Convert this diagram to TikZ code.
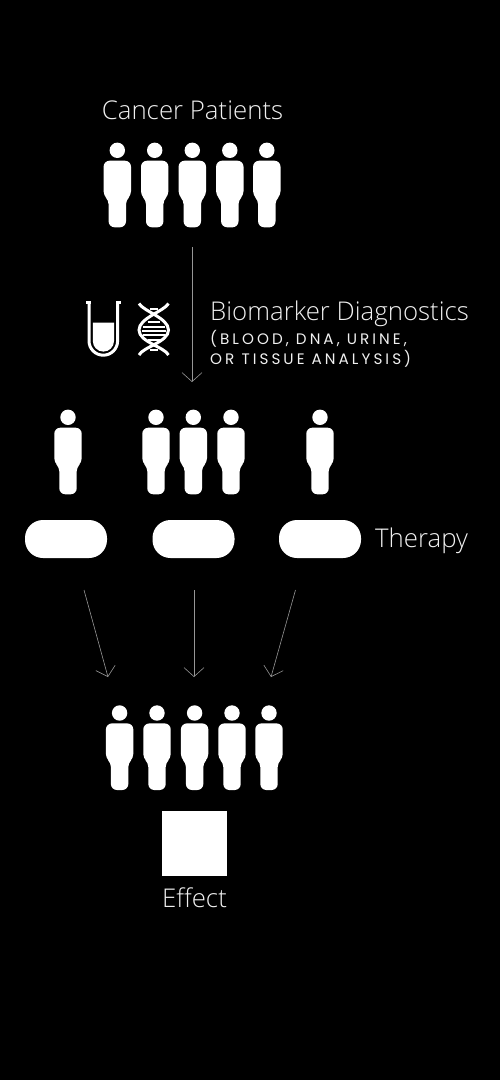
\documentclass[tikz,border=0pt]{standalone}
\usepackage{fontspec}
\setmainfont{Open Sans Light}[BoldFont=Open Sans]
\newfontfamily\capsfont{Poppins}[LetterSpace=20]
\usetikzlibrary{arrows.meta, positioning}
\definecolor{soft}{RGB}{240, 240, 240}
\definecolor{wire}{RGB}{150, 150, 150}

\begin{document}
\begin{tikzpicture}[
  x=1pt, y=-1pt,
  label/.style={inner sep=0pt, text=soft, font=\fontsize{25.8}{26}\selectfont},
  sublabel/.style={inner sep=0pt, text=soft, align=left,
    font=\capsfont\fontsize{15.2}{20}\selectfont},
  pill/.style={draw=none, fill=white, rounded corners=18pt, minimum width=82pt,
    minimum height=38pt, inner sep=0pt},
  effectbox/.style={draw=none, fill=white, minimum size=65pt, inner sep=0pt},
  arrow/.style={-{Straight Barb[length=9pt, width=20pt]}, line width=0.6pt, wire},
  person/.pic={
    \fill[white] (0,-77) circle (7.7);
    \fill[white] (-13.7,-50) [rounded corners=6pt] -- (-13.7,-66.6) -- (13.7,-66.6) [sharp corners] -- (13.7,-50)
      [rounded corners=4pt] -- (13.7,-32) -- (8.7,-27) [rounded corners=6pt] -- (8.7,0) -- (-8.7,0)
      [rounded corners=4pt] -- (-8.7,-27) -- (-13.7,-32) [sharp corners] -- cycle;
  }
]
\fill[black] (0,0) rectangle (500,1080);

% patients
\node[label] (patients) at (192.5,110) {Cancer Patients};
\foreach \px in {117.3,154.7,192.3,229.8,266.8}
  \pic at (\px,227.3) {person};

% diagnostics
\draw[white, line width=3pt, line cap=butt] (86,302.5) -- (91,302.5) (116,302.5) -- (120.5,302.5);
\draw[white, line width=3pt] (89,302) -- (89,340.9) arc[start angle=180, end angle=0, radius=14.3] -- (117.6,302);
\fill[white] (92.8,322.5) -- (114,322.5) -- (114,341) arc[start angle=0, end angle=180, radius=10.6] -- cycle;
\draw[white, line width=3pt] (139,303.5) .. controls (143,311) and (168.5,318) .. (168.5,330)
  .. controls (168.5,342) and (143,347) .. (139,355);
\draw[white, line width=3pt] (168.5,303.5) .. controls (164.5,311) and (139,318) .. (139,330)
  .. controls (139,342) and (164.5,347) .. (168.5,355);
\foreach \ry/\rw in {309/4,322/6,327/11,331/12,335/11,340/6,350/4}
  \draw[white, line width=1.2pt] (153.7-\rw,\ry) -- (153.7+\rw,\ry);
\node[label, anchor=base west] (biomarker) at (210,320) {Biomarker Diagnostics};
\node[sublabel, anchor=north west] (analysis) at (210,330.3) {(BLOOD, DNA, URINE,\\OR TISSUE ANALYSIS)};
\coordinate (patients-out) at (192,247);
\coordinate (groups-in) at (192,382);
\draw[arrow] (patients-out) -- (groups-in);

% stratified groups
\foreach \px in {68,156,193.3,231,320}
  \pic at (\px,494.3) {person};
\node[pill] (pill-a) at (66,539) {};
\node[pill] (pill-b) at (193.5,539) {};
\node[pill] (pill-c) at (320,539) {};
\node[label, anchor=base west] (therapy) at (375,547) {Therapy};

\coordinate (a-out) at (84,590);
\coordinate (b-out) at (194,590);
\coordinate (c-out) at (295.5,590);
\coordinate (a-in) at (108,677);
\coordinate (b-in) at (194,677);
\coordinate (c-in) at (271,677);
\draw[arrow] (a-out) -- (a-in);
\draw[arrow] (b-out) -- (b-in);
\draw[arrow] (c-out) -- (c-in);

% outcome
\foreach \px in {119.6,157,194.6,232,269}
  \pic at (\px,790) {person};
\node[effectbox] (square) at (194.5,843.5) {};
\node[label, below=11pt of square] (effect) {Effect};
\end{tikzpicture}
\end{document}
